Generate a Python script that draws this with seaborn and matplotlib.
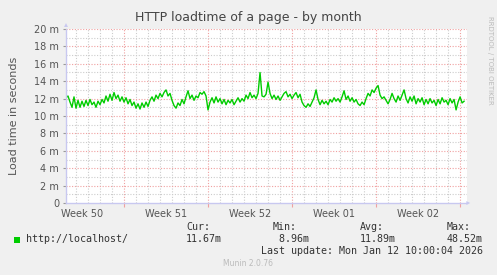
import numpy as np
import pandas as pd
import matplotlib
matplotlib.use("Agg")
import matplotlib.pyplot as plt
import seaborn as sns

# ---- data (load time in ms, 4-hour samples) ----
start_day = -4.83   # days relative to Mon Dec 15 00:00
step_day = 1.0 / 6.0
load_ms = [
    12.1, 12.3, 11.6, 11.0, 12.2, 10.9, 11.8, 11.0, 11.7, 11.1,
    11.8, 11.2, 11.9, 11.3, 11.6, 11.0, 11.7, 11.3, 11.9, 11.5,
    12.3, 11.7, 12.5, 11.8, 12.7, 12.0, 12.4, 11.7, 12.2, 11.6,
    12.1, 11.4, 11.9, 11.2, 11.6, 10.9, 11.4, 10.8, 11.5, 11.0,
    11.6, 11.1, 11.8, 12.2, 11.7, 12.4, 12.0, 12.6, 12.2, 12.7,
    13.0, 12.3, 12.6, 11.8, 11.2, 10.9, 11.5, 11.2, 11.9, 11.4,
    12.2, 12.9, 12.0, 12.4, 11.8, 12.3, 12.1, 12.7, 12.5, 12.8,
    12.3, 10.7, 11.6, 12.1, 11.5, 12.2, 11.6, 12.0, 11.4, 11.9,
    11.3, 11.8, 11.5, 11.9, 11.3, 11.7, 12.1, 11.6, 12.0, 11.7,
    12.4, 12.0, 12.7, 12.1, 12.4, 12.0, 12.6, 15.0, 12.3, 12.2,
    12.5, 13.9, 12.6, 12.0, 12.4, 11.9, 12.3, 11.8, 12.2, 12.6,
    12.8, 12.2, 12.5, 12.0, 12.4, 12.7, 12.1, 12.5, 11.6, 11.2,
    11.0, 11.4, 11.1, 11.6, 12.1, 13.0, 11.9, 11.3, 11.8, 11.4,
    11.7, 11.3, 11.9, 11.6, 12.1, 11.7, 12.0, 11.6, 12.2, 12.9,
    11.9, 12.3, 11.7, 12.1, 11.6, 11.9, 11.4, 11.2, 11.6, 11.3,
    12.0, 12.6, 12.3, 13.0, 12.7, 13.2, 13.5, 12.4, 12.0, 12.2,
    11.8, 11.4, 11.9, 12.6, 12.0, 11.6, 12.3, 11.8, 12.4, 13.0,
    12.0, 11.5, 12.2, 11.7, 12.3, 11.4, 12.0, 11.6, 12.1, 11.3,
    11.9, 11.4, 12.0, 11.5, 11.8, 11.2, 11.9, 11.4, 12.1, 11.6,
    11.8, 11.3, 12.0, 11.5, 11.9, 10.7, 11.6, 12.2, 11.5, 11.7,
]
week_labels = ["Week 50", "Week 51", "Week 52", "Week 01", "Week 02"]
week_label_days = [-3.5, 3.5, 10.5, 17.5, 24.5]
week_start_days = [0, 7, 14, 21, 28]
y_ticks = [0, 2, 4, 6, 8, 10, 12, 14, 16, 18, 20]
y_tick_labels = ["0"] + [f"{v} m" for v in y_ticks[1:]]
series_name = "http://localhost/"
stat_names = ["Cur:", "Min:", "Avg:", "Max:"]
stat_values = ["11.67m", " 8.96m", "11.89m", "48.52m"]

df = pd.DataFrame({
    "day": [start_day + i * step_day for i in range(len(load_ms))],
    "ms": load_ms,
})

W, H = 497, 275
fig = plt.figure(figsize=(W / 100, H / 100), dpi=100, facecolor="#F0F0F0")
ax = fig.add_axes([66 / W, 72 / H, (467 - 66) / W, (203 - 29) / H])
ax.set_facecolor("white")

x_min, x_max = -4.83, 28.58
ax.set_xlim(x_min, x_max)
ax.set_ylim(0, 20)

# grid
for d in range(-4, 29):
    if d in week_start_days:
        ax.axvline(d, color="#F0A0A0", lw=0.8, ls=(0, (1, 1.5)), zorder=1)
    else:
        ax.axvline(d, color="#CCCCCC", lw=0.8, ls=(0, (1, 1.5)), zorder=1)
for v in range(1, 21):
    if v % 2 == 0:
        ax.axhline(v, color="#F0A0A0", lw=0.8, ls=(0, (1, 1.5)), zorder=1)
    else:
        ax.axhline(v, color="#CCCCCC", lw=0.8, ls=(0, (1, 1.5)), zorder=1)

sns.lineplot(data=df, x="day", y="ms", ax=ax, color="#00CC00", lw=1.0, zorder=3)

for s in ["top", "right"]:
    ax.spines[s].set_visible(False)
for s in ["left", "bottom"]:
    ax.spines[s].set_color("#C8C8F0")
    ax.spines[s].set_linewidth(1.0)
ax.spines["left"].set_zorder(4)
ax.spines["bottom"].set_zorder(4)

ax.set_xticks(week_label_days)
ax.set_xticklabels(week_labels)
ax.set_xticks(week_start_days, minor=True)
ax.tick_params(axis="x", which="major", length=0, pad=4, labelsize=7, labelcolor="#555555")
ax.tick_params(axis="x", which="minor", length=3, color="#F0A0A0", width=0.8)
ax.set_yticks(y_ticks)
ax.set_yticklabels(y_tick_labels)
ax.tick_params(axis="y", length=2, color="#999999", pad=3, labelsize=7, labelcolor="#555555")
ax.set_xlabel("")
ax.set_ylabel("Load time in seconds", fontsize=8, color="#555555", labelpad=11)

# arrows at axis ends
ax.annotate("", xy=(0, 1.05), xytext=(0, 1.0), xycoords="axes fraction",
            arrowprops=dict(arrowstyle="-|>", color="#C8C8F0", lw=0, mutation_scale=7),
            annotation_clip=False)
ax.annotate("", xy=(1.015, 0), xytext=(1.0, 0), xycoords="axes fraction",
            arrowprops=dict(arrowstyle="-|>", color="#C8C8F0", lw=0, mutation_scale=7),
            annotation_clip=False)

def px(x, y):
    return x / W, 1 - y / H

fig.text(*px(248, 18), "HTTP loadtime of a page - by month", ha="center", va="center",
         fontsize=9, color="#444444")
fig.text(*px(490, 60), "RRDTOOL / TOBI OETIKER", ha="center", va="center",
         rotation=-90, fontsize=5, color="#BBBBBB")

mono = dict(family="DejaVu Sans Mono", fontsize=7.2, color="#333333", va="center")
fig.patches.append(plt.Rectangle(px(14, 243), 6 / W, 6 / H, transform=fig.transFigure,
                                 facecolor="#00CC00", edgecolor="none"))
fig.text(*px(26, 239), series_name, ha="left", **mono)
stat_x = [186, 273, 360, 447]
for sx, n, v in zip(stat_x, stat_names, stat_values):
    fig.text(*px(sx, 227), n, ha="left", **mono)
    fig.text(*px(sx, 239), v, ha="left", **mono)
fig.text(*px(483, 251), "Last update: Mon Jan 12 10:00:04 2026", ha="right", **mono)
fig.text(*px(248, 264), "Munin 2.0.76", ha="center", va="center", fontsize=5.5, color="#BBBBBB")

fig.savefig("out.png", dpi=100, facecolor=fig.get_facecolor())
